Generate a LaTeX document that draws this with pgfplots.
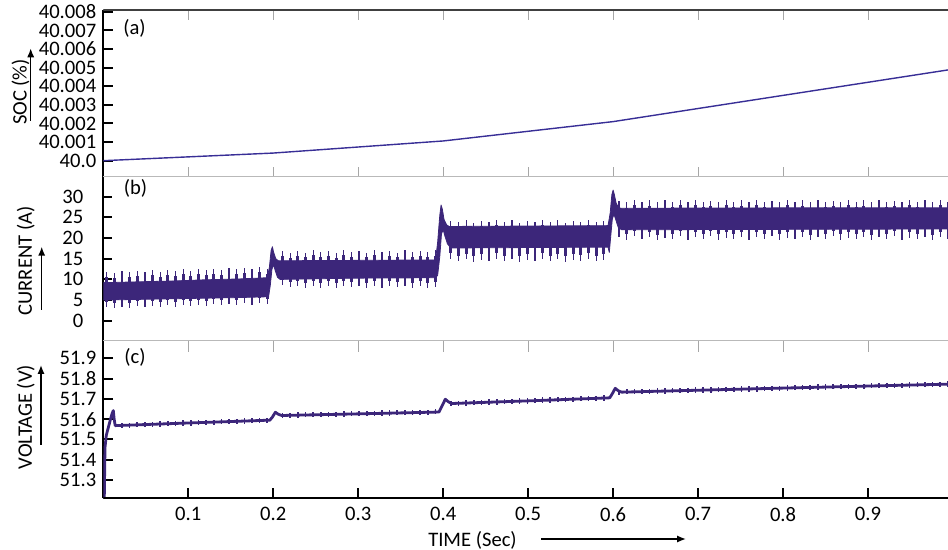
\documentclass[border=0pt]{standalone}
\usepackage{fontspec}
\setmainfont{Carlito}
\usepackage{pgfplots}
\pgfplotsset{compat=1.18}
\usepackage{pgfplotstable}
\usetikzlibrary{arrows.meta}

\definecolor{trace}{RGB}{60,38,122}
\definecolor{socline}{RGB}{56,46,150}
\newcommand\lbl{\fontsize{10.3}{12}\selectfont}

% SOC above 40 %, in thousandths of a percent
\pgfplotstableread{
t     dsoc
0.0   0.00
0.2   0.41
0.4   1.06
0.6   2.10
1.0   4.92
}\soctable

% switching spikes: time, current extremes (A), voltage extremes (V)
\pgfplotstableread{
t     ilo   ihi   vlo     vhi
0.004 3.2 11.9 51.530 51.545
0.013 3.0 11.6 51.585 51.596
0.022 3.4 12.1 51.557 51.583
0.031 3.1 11.8 51.559 51.584
0.040 3.5 12.0 51.560 51.586
0.049 3.3 11.7 51.561 51.587
0.058 3.6 12.2 51.563 51.588
0.067 3.2 11.9 51.564 51.590
0.076 3.7 12.3 51.565 51.591
0.085 3.4 12.0 51.567 51.593
0.094 3.8 12.4 51.568 51.594
0.103 3.5 12.1 51.569 51.595
0.112 3.9 12.5 51.571 51.597
0.121 3.6 12.2 51.572 51.598
0.130 4.0 12.6 51.573 51.599
0.139 3.7 12.3 51.575 51.601
0.148 4.1 12.7 51.576 51.602
0.157 3.8 12.4 51.577 51.603
0.166 4.2 12.8 51.579 51.605
0.175 3.9 12.5 51.580 51.606
0.184 4.3 12.9 51.581 51.607
0.193 4.0 12.6 51.583 51.609
0.211 8.6 16.8 51.606 51.632
0.220 8.1 16.4 51.607 51.633
0.229 8.5 16.9 51.608 51.634
0.238 8.0 16.5 51.609 51.635
0.247 8.4 17.0 51.609 51.635
0.256 7.9 16.6 51.610 51.636
0.265 8.3 16.8 51.611 51.637
0.274 8.0 16.4 51.612 51.638
0.283 8.5 17.0 51.613 51.639
0.292 8.1 16.6 51.614 51.640
0.301 8.4 16.9 51.614 51.640
0.310 7.9 16.5 51.615 51.641
0.319 8.3 17.1 51.616 51.642
0.328 8.0 16.7 51.617 51.643
0.337 8.5 16.9 51.618 51.644
0.346 8.1 16.5 51.619 51.645
0.355 8.4 17.0 51.619 51.645
0.364 7.9 16.6 51.620 51.646
0.373 8.3 16.9 51.621 51.647
0.382 8.0 16.7 51.622 51.648
0.391 8.2 17.0 51.623 51.649
0.409 15.0 24.2 51.665 51.691
0.418 14.4 23.8 51.666 51.692
0.427 14.9 24.3 51.668 51.694
0.436 14.3 23.7 51.669 51.695
0.445 14.8 24.2 51.670 51.696
0.454 14.5 23.9 51.672 51.698
0.463 15.0 24.4 51.673 51.699
0.472 14.4 23.8 51.674 51.700
0.481 14.9 24.3 51.676 51.702
0.490 14.3 23.7 51.677 51.703
0.499 14.8 24.2 51.678 51.704
0.508 14.5 23.9 51.680 51.706
0.517 15.0 24.4 51.681 51.707
0.526 14.4 23.8 51.682 51.708
0.535 14.9 24.3 51.684 51.710
0.544 14.3 23.7 51.685 51.711
0.553 14.8 24.2 51.686 51.712
0.562 14.5 23.9 51.688 51.714
0.571 15.0 24.4 51.689 51.715
0.580 14.4 23.8 51.691 51.717
0.589 14.8 24.1 51.692 51.718
0.607 20.2 29.0 51.721 51.747
0.616 19.6 28.6 51.722 51.748
0.625 20.4 29.2 51.723 51.749
0.634 19.8 28.7 51.723 51.749
0.643 20.3 29.1 51.724 51.750
0.652 19.5 28.6 51.725 51.751
0.661 20.1 29.3 51.726 51.752
0.670 19.7 28.8 51.727 51.753
0.679 20.4 29.1 51.728 51.754
0.688 19.6 28.6 51.729 51.755
0.697 20.2 29.2 51.730 51.756
0.706 19.8 28.7 51.731 51.757
0.715 20.5 29.0 51.732 51.758
0.724 19.6 28.6 51.733 51.759
0.733 20.1 29.3 51.734 51.760
0.742 19.7 28.8 51.735 51.761
0.751 20.3 29.1 51.736 51.762
0.760 19.5 28.6 51.736 51.762
0.769 20.2 29.2 51.737 51.763
0.778 19.8 28.7 51.738 51.764
0.787 20.4 29.0 51.739 51.765
0.796 19.6 28.6 51.740 51.766
0.805 20.1 29.3 51.741 51.767
0.814 19.7 28.8 51.742 51.768
0.823 20.3 29.1 51.743 51.769
0.832 19.5 28.6 51.744 51.770
0.841 20.2 29.2 51.745 51.771
0.850 19.8 28.7 51.746 51.772
0.859 20.4 29.0 51.747 51.773
0.868 19.6 28.6 51.748 51.774
0.877 20.1 29.3 51.749 51.775
0.886 19.7 28.8 51.749 51.775
0.895 20.3 29.1 51.750 51.776
0.904 19.5 28.6 51.751 51.777
0.913 20.2 29.2 51.752 51.778
0.922 19.8 28.7 51.753 51.779
0.931 20.4 29.0 51.754 51.780
0.940 19.6 28.6 51.755 51.781
0.949 20.1 29.3 51.756 51.782
0.958 19.7 28.8 51.757 51.783
0.967 20.3 29.1 51.758 51.784
0.976 19.5 28.6 51.759 51.785
0.985 20.2 29.2 51.760 51.786
0.994 19.8 28.7 51.761 51.787
}\spikes

\pgfplotsset{
  panel/.style={
    scale only axis,
    width=424.85pt,
    xmin=0, xmax=1,
    separate axis lines,
    x axis line style={draw=gray!55, line width=0.5pt},
    y axis line style={draw=black, line width=1pt},
    tick align=inside,
    major tick length=4.5pt,
    ytick pos=left,
    ytick style={black, line width=1pt},
    xtick style={gray!70, line width=0.5pt},
    tick label style={font=\lbl},
    /pgf/number format/assume math mode=true,
  },
  spikes/.style={
    draw=none,
    error bars/.cd, y dir=both, y explicit, error mark=none,
    error bar style={draw=trace, line width=#1},
  },
}

\begin{document}
\begin{tikzpicture}[font=\lbl]

% (a) state of charge
\begin{axis}[panel,
  at={(51.65pt,-5pt)}, anchor=north west, height=83.5pt,
  ymin=-0.876, ymax=8.10,
  ytick={0,1,2,3,4,5,6,7,8},
  yticklabels={40.0,40.001,40.002,40.003,40.004,40.005,40.006,40.007,40.008},
  xtick={0.1,0.2,0.3,0.4,0.5,0.6,0.7,0.8,0.9},
  xtick pos=both, xticklabels={},
  major tick length=5pt,
]
\addplot[socline, line width=0.7pt] table[x=t, y=dsoc] {\soctable};
\draw[black!75, line width=0.6pt] (rel axis cs:0,1) -- (rel axis cs:1,1);
\end{axis}

% (b) current
\begin{axis}[panel,
  at={(51.65pt,-88.5pt)}, anchor=north west, height=82pt,
  ymin=-4.91, ymax=34.77,
  ytick={0,5,10,15,20,25,30},
  yticklabel style={xshift=-6.5pt},
  xtick=\empty,
]
\addplot[fill=trace, draw=trace, line width=0.4pt, line join=round] coordinates {
  (0.000,9.2) (0.040,9.4) (0.080,9.6) (0.120,9.9) (0.160,10.1) (0.193,10.4)
  (0.1955,13.0) (0.1975,17.0) (0.199,17.9) (0.2005,16.5) (0.203,15.0) (0.206,14.5)
  (0.300,14.6) (0.391,14.7)
  (0.3935,19.0) (0.396,25.5) (0.3975,28.0) (0.399,27.0) (0.401,24.5) (0.404,23.2) (0.407,22.8)
  (0.500,22.9) (0.594,23.0)
  (0.5965,26.0) (0.5985,30.5) (0.600,31.6) (0.6015,30.5) (0.6035,28.5) (0.6065,27.3) (0.610,27.2)
  (0.800,27.3) (1.000,27.3)
  (1.000,22.2) (0.800,22.1) (0.610,22.0) (0.606,22.6) (0.603,24.5) (0.601,25.8)
  (0.599,24.5) (0.597,20.0) (0.5955,16.5) (0.594,17.8)
  (0.500,17.7) (0.409,17.6) (0.405,18.6) (0.402,20.5) (0.400,22.0) (0.398,21.0)
  (0.396,15.5) (0.3935,11.0) (0.391,10.4)
  (0.300,10.3) (0.208,10.0) (0.205,10.5) (0.2025,12.0) (0.2005,13.5) (0.1985,12.5)
  (0.1965,8.5) (0.1945,5.8) (0.160,5.6) (0.080,5.3) (0.000,5.0)
};
% thin full-length spikes, with a wider base to give them a tapered look
\addplot[spikes=0.6pt] table[x=t, y expr={(\thisrow{ilo}+\thisrow{ihi})/2},
  y error expr={(\thisrow{ihi}-\thisrow{ilo})/2}] {\spikes};
\addplot[spikes=1.4pt] table[x=t, y expr={(\thisrow{ilo}+\thisrow{ihi})/2},
  y error expr={0.36*(\thisrow{ihi}-\thisrow{ilo})}] {\spikes};
\end{axis}

% (c) voltage
\begin{axis}[panel,
  at={(51.65pt,-170.5pt)}, anchor=north west, height=78.65pt,
  ymin=51.21, ymax=51.985,
  ytick={51.3,51.4,51.5,51.6,51.7,51.8,51.9},
  yticklabels={51.3,51.4,51.5,51.6,51.7,51.8,51.9},
  xtick={0.1,0.2,0.3,0.4,0.5,0.6,0.7,0.8,0.9,1},
  xticklabels={0.1,0.2,0.3,0.4,0.5,0.6,0.7,0.8,0.9,1},
  xtick pos=left,
  xtick style={black, line width=1.2pt},
  major tick length=5pt,
  xticklabel style={yshift=-1pt},
]
\addplot[trace, line width=1.4pt, line join=round] coordinates {
  (0.0008,51.10) (0.0020,51.46) (0.0035,51.52) (0.0060,51.56) (0.0085,51.60)
  (0.0105,51.63) (0.0118,51.642) (0.0128,51.60) (0.0140,51.568)
  (0.100,51.581) (0.196,51.595)
  (0.199,51.610) (0.2025,51.634) (0.206,51.624) (0.210,51.618)
  (0.300,51.626) (0.395,51.635)
  (0.398,51.660) (0.4025,51.698) (0.406,51.686) (0.410,51.677)
  (0.500,51.690) (0.596,51.705)
  (0.599,51.725) (0.6025,51.752) (0.606,51.740) (0.610,51.733)
  (0.800,51.753) (1.000,51.773)
};
\addplot[spikes=0.8pt] table[x=t, y expr={(\thisrow{vlo}+\thisrow{vhi})/2},
  y error expr={(\thisrow{vhi}-\thisrow{vlo})/2}] {\spikes};
\draw[black, line width=1pt] (rel axis cs:0,0) -- (rel axis cs:1,0);
\pgfplotsinvokeforeach{0.1,0.2,0.3,0.4,0.5,0.6,0.7,0.8,0.9}{
  \draw[gray!70, line width=0.5pt] (rel axis cs:#1,1) -- ++(0pt,-5.5pt);
}
\end{axis}

% panel tags
\node at (67.25pt,-14pt) {(a)};
\node at (67.75pt,-94.25pt) {(b)};
\node at (67.5pt,-178.5pt) {(c)};

% axis titles with direction arrows
\node[rotate=90] at (10.25pt,-46pt) {SOC (\%)};
\draw[-{Latex[length=4.5pt,width=3.6pt]}, line width=0.75pt] (15.35pt,-60.35pt) -- (15.35pt,-24.15pt);
\node[rotate=90] at (12.9pt,-130.5pt) {CURRENT (A)};
\draw[-{Latex[length=4.5pt,width=3.6pt]}, line width=0.75pt] (20.85pt,-155pt) -- (20.85pt,-123.35pt);
\node[rotate=90] at (12.9pt,-208.5pt) {VOLTAGE (V)};
\draw[-{Latex[length=4.5pt,width=3.6pt]}, line width=0.75pt] (20.5pt,-222.5pt) -- (20.5pt,-182.5pt);
\node at (236.25pt,-270pt) {TIME (Sec)};
\draw[-{Latex[length=4.5pt,width=3.6pt]}, line width=0.75pt] (270.5pt,-269.5pt) -- (343pt,-269.5pt);

\pgfresetboundingbox
\useasboundingbox (0pt,0pt) rectangle (474pt,-275pt);
\end{tikzpicture}
\end{document}
